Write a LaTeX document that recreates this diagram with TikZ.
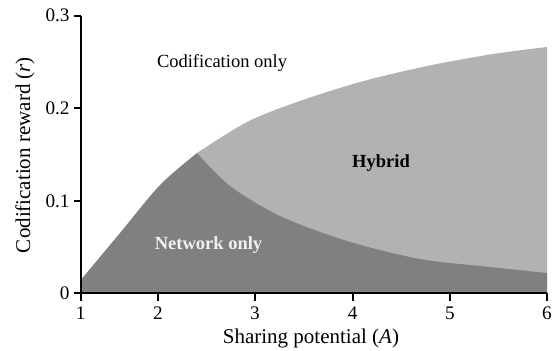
\documentclass[tikz,border=0pt]{standalone}
\usepackage{fontspec}
\setmainfont{Liberation Serif}
\usepackage{xcolor}
\usetikzlibrary{positioning}
\definecolor{netgray}{gray}{0.50}
\definecolor{hybgray}{gray}{0.70}
\tikzset{
  axisline/.style={line width=1.1pt},
  tickline/.style={line width=1pt},
  ticklabel/.style={font=\fontsize{9.6}{11}\selectfont, inner sep=1pt},
  axistitle/.style={font=\fontsize{10.5}{12}\selectfont, inner sep=1pt},
  regionlabel/.style={font=\fontsize{9.25}{11}\selectfont, inner sep=1pt},
  boldlabel/.style={font=\fontsize{9.25}{11}\selectfont\bfseries, inner sep=1pt}
}

\begin{document}
\begin{tikzpicture}[x=0.5pt, y=-0.5pt]
\useasboundingbox (0,0) rectangle (553,350);

% Hybrid region (light), network region drawn on top
\fill[hybgray] plot[smooth] coordinates {(197,153) (247,122) (297,102) (360,82)
  (427,66) (493,54) (547,47)}
  -- (547,293.3) -- (197,293.3) -- cycle;
\fill[netgray] (80.7,293.3)
  -- plot[smooth] coordinates {(80.7,280) (120,233) (160,185) (197,153)}
  -- plot[smooth] coordinates {(197,153) (230,186) (280,216) (347,241)
     (420,259) (490,267) (547,273)}
  -- (547,293.3) -- cycle;

% Axes
\draw[axisline] (80.7,16) -- (80.7,293.3) -- (547,293.3);

% Ticks
\foreach \v/\yy [count=\i] in {0/293.3, 0.1/200.8, 0.2/108.2, 0.3/15.7} {
  \draw[tickline] (74,\yy) -- (80.7,\yy);
  \node[ticklabel, anchor=east] (ylab\i) at (72,\yy) {\v};
}
\foreach \v/\xx in {1/80.7, 2/158, 3/255, 4/352.7, 5/450, 6/547} {
  \draw[tickline] (\xx,293.3) -- (\xx,301);
  \node[ticklabel] (xlab\v) at (\xx,313) {\v};
}

% Axis titles
\node[axistitle] (xtitle) at (311,338) {Sharing potential (\textit{A})};
\node[axistitle, rotate=90] (ytitle) at (25,155) {Codification reward (\textit{r})};

% Region labels
\node[regionlabel] (codif) at (222,63) {Codification only};
\node[boldlabel] (hybrid) at (381,163) {Hybrid};
\node[boldlabel, text=white!94!black] (network) at (208.5,245) {Network only};

\end{tikzpicture}
\end{document}
